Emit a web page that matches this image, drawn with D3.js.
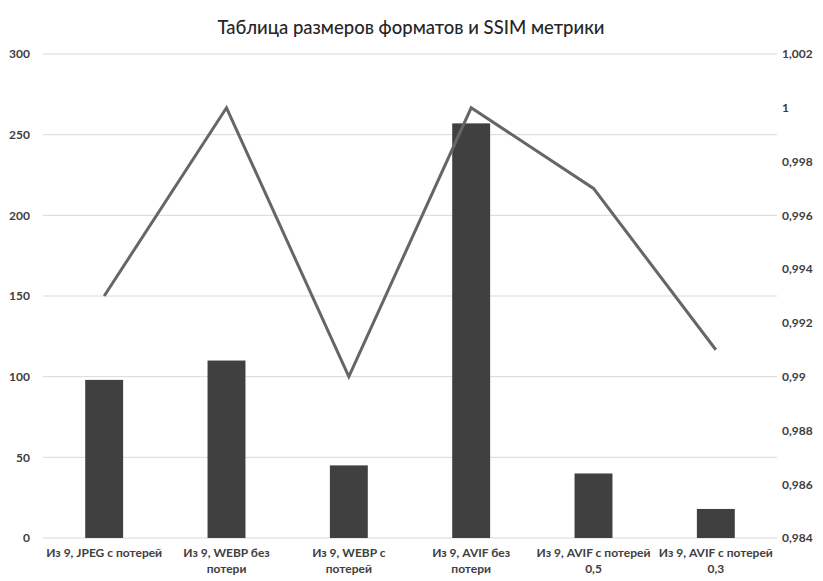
<!DOCTYPE html>
<html>
<head>
<meta charset="utf-8">
<script src="https://cdn.jsdelivr.net/npm/d3@7"></script>
<style>
  body { margin: 0; background: #fff; }
  text { font-family: Lato, "Open Sans", sans-serif; }
</style>
</head>
<body>
<svg width="823" height="581"></svg>
<script>
let categories = [
    'Из 9, JPEG с потерей',
    'Из 9, WEBP без потери',
    'Из 9, WEBP с потерей',
    'Из 9, AVIF без потери',
    'Из 9, AVIF с потерей 0,5',
    'Из 9, AVIF с потерей 0,3'
];
let sizes = [98, 110, 45, 257, 40, 18];
let ssim = [0.993, 1, 0.99, 1, 0.997, 0.991];
let leftTicks = [0, 50, 100, 150, 200, 250, 300];
let rightTicks = [0.984, 0.986, 0.988, 0.99, 0.992, 0.994, 0.996, 0.998, 1, 1.002];

let svg = d3.select('svg');
let plotLeft = 43, plotRight = 777, plotTop = 54, plotBottom = 538;

let x = d3.scaleBand()
    .domain(categories)
    .range([plotLeft, plotRight])
    .paddingInner(0.69)
    .paddingOuter(0.345);

let y = d3.scaleLinear()
    .domain([0, 300])
    .range([plotBottom, plotTop]);

let y2 = d3.scaleLinear()
    .domain([0.984, 1.002])
    .range([plotBottom, plotTop]);

let fmt = d => String(+d.toFixed(3)).replace('.', ',');

// title
svg.append('text')
    .attr('x', 411)
    .attr('y', 34)
    .attr('text-anchor', 'middle')
    .attr('font-size', 18.5)
    .attr('font-weight', 500)
    .attr('fill', '#262626')
    .text('Таблица размеров форматов и SSIM метрики');

// gridlines
svg.append('g').selectAll('line').data(leftTicks).enter().append('line')
    .attr('x1', plotLeft).attr('x2', plotRight)
    .attr('y1', d => y(d)).attr('y2', d => y(d))
    .attr('stroke', '#d9d9d9')
    .attr('stroke-width', 1);

// left axis
let yAxis = svg.append('g')
    .attr('transform', `translate(${plotLeft},0)`)
    .call(d3.axisLeft(y).tickValues(leftTicks).tickSize(0).tickPadding(13));
yAxis.select('.domain').remove();
yAxis.selectAll('text')
    .attr('font-size', 12)
    .attr('font-weight', 'bold')
    .attr('fill', '#404040');

// right axis
let y2Axis = svg.append('g')
    .attr('transform', `translate(${plotRight},0)`)
    .call(d3.axisRight(y2).tickValues(rightTicks).tickFormat(fmt).tickSize(0).tickPadding(5));
y2Axis.select('.domain').remove();
y2Axis.selectAll('text')
    .attr('font-size', 12)
    .attr('font-weight', 'bold')
    .attr('fill', '#404040');

// bars
svg.append('g').selectAll('rect').data(sizes).enter().append('rect')
    .attr('x', (d, i) => x(categories[i]))
    .attr('width', x.bandwidth())
    .attr('y', d => y(d))
    .attr('height', d => y(0) - y(d))
    .attr('fill', '#404040');

// line
let line = d3.line()
    .x((d, i) => x(categories[i]) + x.bandwidth() / 2)
    .y(d => y2(d));

svg.append('path')
    .datum(ssim)
    .attr('d', line)
    .attr('fill', 'none')
    .attr('stroke', '#666666')
    .attr('stroke-width', 3)
    .attr('stroke-linejoin', 'miter');

// x labels, wrapped to fit under each category
let xAxis = svg.append('g')
    .attr('transform', `translate(0,${plotBottom})`)
    .call(d3.axisBottom(x).tickSize(0).tickPadding(10));
xAxis.select('.domain').remove();
xAxis.selectAll('text')
    .attr('font-size', 12)
    .attr('font-weight', 'bold')
    .attr('fill', '#404040')
    .each(function (label) {
        let t = d3.select(this);
        let words = label.split(' ');
        let maxW = 116;
        t.text(null);
        let lines = [], cur = [];
        let tmp = t.append('tspan');
        words.forEach(w => {
            cur.push(w);
            tmp.text(cur.join(' '));
            if (tmp.node().getComputedTextLength() > maxW && cur.length > 1) {
                cur.pop();
                lines.push(cur.join(' '));
                cur = [w];
            }
        });
        lines.push(cur.join(' '));
        tmp.remove();
        lines.forEach((l, i) => {
            t.append('tspan')
                .attr('x', 0)
                .attr('dy', i === 0 ? '0.71em' : '1.4em')
                .text(l);
        });
    });
</script>
</body>
</html>
